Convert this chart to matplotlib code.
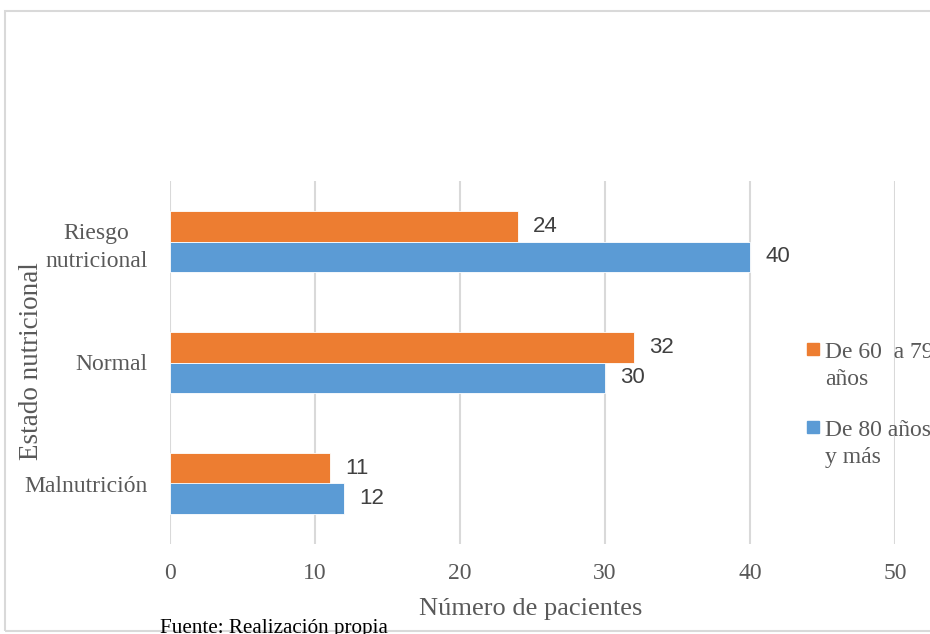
import matplotlib.pyplot as plt
from matplotlib.patches import Rectangle

# datos: pacientes por estado nutricional y grupo de edad
categorias = ["Malnutrición", "Normal", "Riesgo\nnutricional"]
edad_60_79 = [11, 32, 24]
edad_80_mas = [12, 30, 40]
ticks_x = [0, 10, 20, 30, 40, 50]

naranja = "#ED7D31"
azul = "#5B9BD5"
gris = "#595959"
serif = ["Liberation Serif", "DejaVu Serif"]

fig = plt.figure(figsize=(9.3, 6.34), dpi=100)
W, H = 930, 634

# marco gris alrededor del grafico
fig.patches.append(Rectangle((5 / W, 1 - 631 / H), 1.0, (631 - 11) / H,
                             transform=fig.transFigure, fill=False,
                             edgecolor="#d9d9d9", linewidth=1.5))

ax = fig.add_axes([170 / W, 1 - 544 / H, (895 - 170) / W, (544 - 181) / H])

y = range(len(categorias))
alto = 0.252
ax.barh([i + alto / 2 for i in y], edad_60_79, height=alto, color=naranja,
        edgecolor="white", linewidth=0.6, zorder=3)
ax.barh([i - alto / 2 for i in y], edad_80_mas, height=alto, color=azul,
        edgecolor="white", linewidth=0.6, zorder=3)

# etiquetas de valor
for i in y:
    ax.annotate(str(edad_60_79[i]), (edad_60_79[i], i + alto / 2),
                xytext=(11, 0), textcoords="offset points", va="center",
                ha="left", fontsize=16, color="#404040",
                family="Liberation Sans")
    ax.annotate(str(edad_80_mas[i]), (edad_80_mas[i], i - alto / 2),
                xytext=(11, 0), textcoords="offset points", va="center",
                ha="left", fontsize=16, color="#404040",
                family="Liberation Sans")

ax.set_xlim(0, 50)
ax.set_ylim(-0.5, 2.5)
ax.set_xticks(ticks_x)
ax.set_yticks(list(y))
ax.set_yticklabels(categorias, family=serif, fontsize=17, color=gris,
                   linespacing=1.45, multialignment="center")
ax.set_xticklabels([str(t) for t in ticks_x], family=serif, fontsize=17,
                   color=gris)
ax.tick_params(axis="x", length=0, pad=14)
ax.tick_params(axis="y", length=0, pad=16)
ax.grid(axis="x", color="#d9d9d9", linewidth=1.5, zorder=0)
ax.set_axisbelow(True)
for s in ax.spines.values():
    s.set_visible(False)

fig.text(531 / W, 1 - 615 / H, "Número de pacientes", ha="center",
         va="baseline", family=serif, fontsize=19, color=gris)
fig.text(31 / W, 1 - 361 / H, "Estado nutricional", ha="center",
         va="center", rotation=90, family=serif, fontsize=19.5, color=gris)
fig.text(160 / W, 1 - 633 / H, "Fuente: Realización propia", ha="left",
         va="baseline", family=serif, fontsize=15.2, color="black")

# leyenda a la derecha, cortada por el borde
fig.patches.append(Rectangle((807 / W, 1 - 355 / H), 12 / W, 12 / H,
                             transform=fig.transFigure, color=naranja))
fig.text(825 / W, 1 - 358 / H, "De 60  a 79", ha="left", va="baseline",
         family=serif, fontsize=17, color=gris)
fig.text(825 / W, 1 - 385 / H, "años", ha="left", va="baseline",
         family=serif, fontsize=17, color=gris)
fig.patches.append(Rectangle((807 / W, 1 - 433 / H), 12 / W, 12 / H,
                             transform=fig.transFigure, color=azul))
fig.text(825 / W, 1 - 436 / H, "De 80 años", ha="left", va="baseline",
         family=serif, fontsize=17, color=gris)
fig.text(825 / W, 1 - 463 / H, "y más", ha="left", va="baseline",
         family=serif, fontsize=17, color=gris)

fig.savefig("out.png", dpi=100)
